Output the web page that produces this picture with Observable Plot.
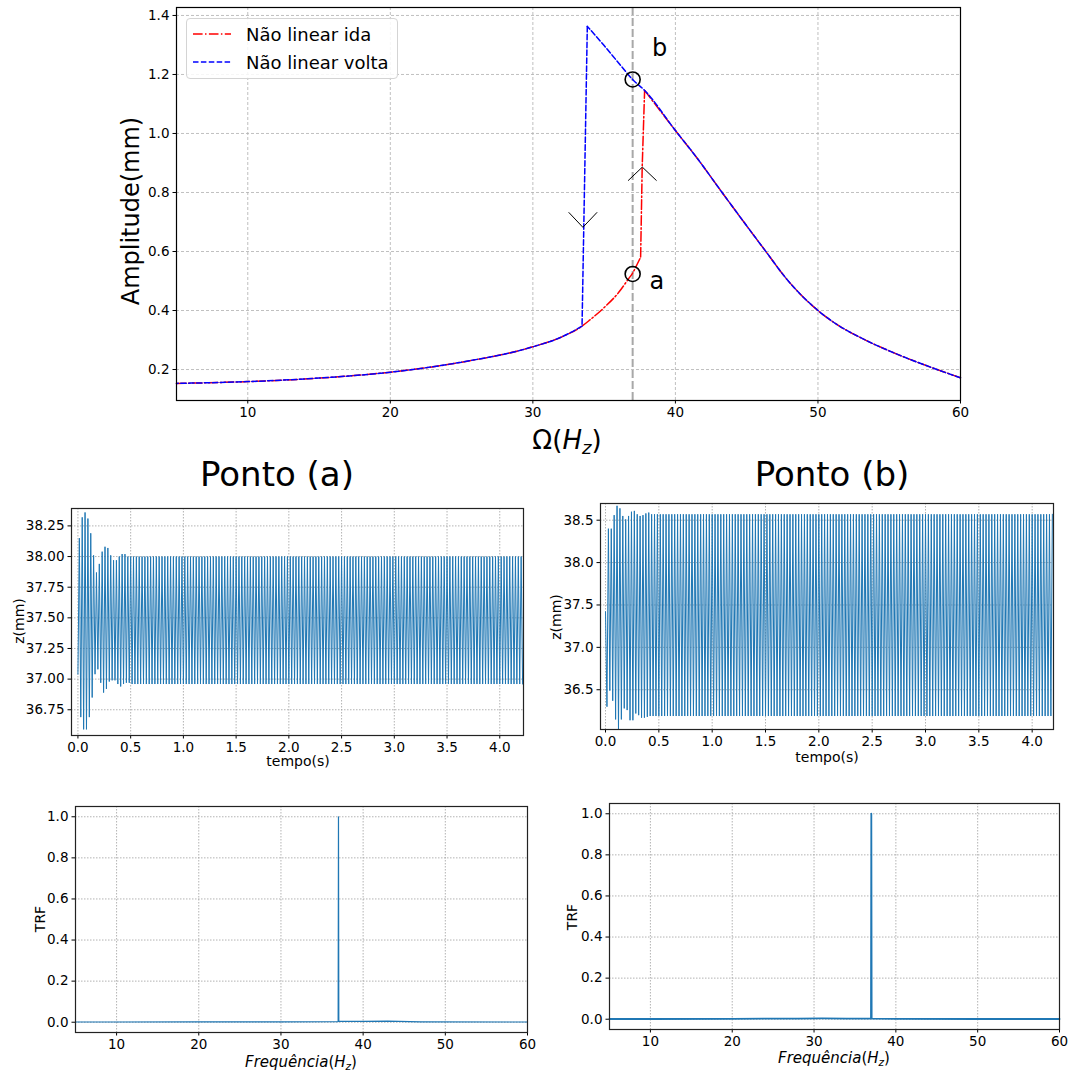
<!DOCTYPE html>
<html>
<head>
<meta charset="utf-8">
<script src="https://cdn.jsdelivr.net/npm/d3@7"></script>
<script src="https://cdn.jsdelivr.net/npm/@observablehq/plot@0.6"></script>
<style>
  body { margin: 0; background: #fff; }
  #fig { position: relative; width: 1075px; height: 1075px; background: #fff; overflow: hidden;
         font-family: "DejaVu Sans", sans-serif; color: #000; }
  .panel { position: absolute; }
  .lbl { position: absolute; white-space: nowrap; line-height: 1; transform: translate(-50%, -50%); }
  .sub { font-size: 0.7em; vertical-align: -0.3em; line-height: 0; }
  .legend { position: absolute; left: 186px; top: 18px; width: 212px; height: 61px; box-sizing: border-box;
            border: 1px solid #d4d4d4; border-radius: 4px; background: rgba(255,255,255,0.85); }
  .legend .row { position: absolute; left: 0; height: 28px; display: flex; align-items: center; font-size: 18px; }
  .legend svg { margin-left: 6px; margin-right: 15px; }
</style>
</head>
<body>
<div id="fig"></div>
<script>
// ---------- Frequency response: amplitude vs excitation frequency ----------
// Forward sweep ("ida"): lower branch, jump up near 37.6 Hz, then upper branch
const idaOmega = [5, 10, 15, 20, 25, 30, 32, 33.45, 34, 35, 36, 36.72, 37, 37.3, 37.56, 37.67, 37.84,
                  40, 41.5, 43.2, 44.8, 46.3, 47.8, 50, 51.35, 53.2, 55.5, 57.9, 60];
const idaAmp   = [0.153, 0.159, 0.171, 0.191, 0.225, 0.277, 0.31, 0.347, 0.368, 0.41, 0.46, 0.508, 0.527, 0.555, 0.581, 0.886, 1.146,
                  1.010, 0.918, 0.805, 0.700, 0.603, 0.507, 0.400, 0.352, 0.303, 0.253, 0.208, 0.172];
// Backward sweep ("volta"): upper branch down to 33.8 Hz, jump down, then lower branch
const voltaOmega = [60, 57.9, 55.5, 53.2, 51.35, 50, 47.8, 46.3, 44.8, 43.2, 41.5, 40, 37.84, 37, 36, 35, 33.82,
                    33.45, 32, 30, 25, 20, 15, 10, 5];
const voltaAmp   = [0.172, 0.208, 0.253, 0.303, 0.352, 0.400, 0.507, 0.603, 0.700, 0.805, 0.918, 1.010, 1.146, 1.183, 1.24, 1.298, 1.363,
                    0.347, 0.31, 0.277, 0.225, 0.191, 0.171, 0.159, 0.153];
const excitation = 37;               // Hz, dashed vertical marker
const pointNames = ["a", "b"];
const pointOmega = [37, 37];
const pointAmp   = [0.524, 1.183];
const pointTextOmega = [38.7, 38.9];
const pointTextAmp   = [0.500, 1.290];
// jump-direction chevrons: apex and arm ends
const chevronApexOmega = [33.51, 37.68];
const chevronApexAmp   = [0.682, 0.886];
const chevronArmAmp    = [0.732, 0.841];
const chevronHalfWidth = 0.98;       // Hz
const topXTicks = [10, 20, 30, 40, 50, 60];
const topYTicks = [0.2, 0.4, 0.6, 0.8, 1.0, 1.2, 1.4];

// ---------- Time responses z(t) at points (a) and (b) ----------
// successive extrema (start value, then alternating peaks/troughs every half period)
const transientA = [37.04, 38.15, 36.69, 38.32, 36.59, 38.36, 36.59, 38.31, 36.69, 38.19, 36.85, 38.01, 37.04,
                    37.87, 37.08, 37.94, 36.97, 38.04, 36.89, 38.08, 36.92, 38.07, 36.98, 38.01, 36.99, 37.97,
                    36.99, 37.97, 36.96, 38.00, 36.94, 38.02, 36.96, 38.02, 36.97, 38.00, 36.97];
const steadyA = {high: 38.00, low: 36.96};
const transientB = [37.42, 36.30, 38.40, 36.49, 38.40, 36.37, 38.56, 36.15, 38.67, 36.02, 38.64, 36.15, 38.55,
                    36.28, 38.51, 36.26, 38.55, 36.14, 38.60, 36.14, 38.61, 36.22, 38.57, 36.20, 38.55, 36.17,
                    38.56, 36.17, 38.58, 36.18, 38.59];
const steadyB = {high: 38.57, low: 36.19};
const responseFreq = 37;             // Hz
const durationA = 4.22, durationB = 4.2;
const timeTicks = [0, 0.5, 1, 1.5, 2, 2.5, 3, 3.5, 4];
const zTicksA = [36.75, 37.0, 37.25, 37.5, 37.75, 38.0, 38.25];
const zTicksB = [36.5, 37.0, 37.5, 38.0, 38.5];

// ---------- Spectra (TRF) ----------
const freqA = [5, 10, 20, 30, 36.96, 37.0, 37.04, 40, 43, 47, 60];
const trfA  = [0.001, 0.001, 0.002, 0.002, 0.003, 1.0, 0.004, 0.004, 0.005, 0.002, 0.001];
const freqB = [5, 10, 20, 28, 31, 34, 36.96, 37.0, 37.04, 40, 50, 60];
const trfB  = [0.001, 0.001, 0.002, 0.003, 0.004, 0.003, 0.003, 1.0, 0.003, 0.002, 0.001, 0.001];
const freqTicks = [10, 20, 30, 40, 50, 60];
const trfTicks = [0, 0.2, 0.4, 0.6, 0.8, 1.0];

// ---------- helpers ----------
const fig = document.getElementById("fig");
const BLUE = "#1f77b4";

function place(svg, left, top) {
  svg.classList.add("panel");
  svg.style.left = left + "px";
  svg.style.top = top + "px";
  fig.appendChild(svg);
}
function label(html, cx, cy, size, opts = {}) {
  const d = document.createElement("div");
  d.className = "lbl";
  d.innerHTML = html;
  d.style.left = cx + "px";
  d.style.top = cy + "px";
  d.style.fontSize = size + "px";
  if (opts.rotate) d.style.transform = "translate(-50%, -50%) rotate(-90deg)";
  fig.appendChild(d);
}
const baseStyle = {fontFamily: "DejaVu Sans", fontSize: "13.5px", color: "#000", background: "transparent", overflow: "visible"};

// expand extrema list into a polyline sampled at each half period
function timeSeries(transient, steady, firstIsPeak, duration) {
  const h = 1 / (2 * responseFreq);
  const pts = transient.map((z, k) => ({t: k * h, z}));
  for (let k = transient.length; k * h <= duration + 1e-9; k++) {
    const peak = (k % 2 === 1) === firstIsPeak;
    pts.push({t: k * h, z: peak ? steady.high : steady.low});
  }
  return pts;
}

// split a sweep into smooth runs and steep jump runs (|dA/dΩ| > 1 mm/Hz)
function sweepPieces(omega, amp) {
  const smooth = [], jump = [];
  let id = 0, cur = null, curJump = null;
  for (let i = 0; i < omega.length - 1; i++) {
    const steep = Math.abs((amp[i + 1] - amp[i]) / (omega[i + 1] - omega[i])) > 1;
    if (steep !== curJump) { id++; curJump = steep; cur = steep ? jump : smooth;
      cur.push({id, w: omega[i], a: amp[i]}); }
    cur.push({id, w: omega[i + 1], a: amp[i + 1]});
  }
  return {smooth, jump};
}

// ---------- top panel ----------
const ida = sweepPieces(idaOmega, idaAmp);
const volta = sweepPieces(voltaOmega, voltaAmp);
const points = pointNames.map((n, i) => ({n, w: pointOmega[i], a: pointAmp[i], tw: pointTextOmega[i], ta: pointTextAmp[i]}));
const chevrons = [];
chevronApexOmega.forEach((w, i) => {
  chevrons.push({id: i, w: w - chevronHalfWidth, a: chevronArmAmp[i]});
  chevrons.push({id: i, w: w, a: chevronApexAmp[i]});
  chevrons.push({id: i, w: w + chevronHalfWidth, a: chevronArmAmp[i]});
});
const idaStyle = {x: "w", y: "a", z: "id", stroke: "red", strokeWidth: 1.5, strokeDasharray: "9.6,2.4,1.5,2.4"};
const voltaStyle = {x: "w", y: "a", z: "id", stroke: "blue", strokeWidth: 1.5, strokeDasharray: "5.5,2.4"};

place(Plot.plot({
  width: 1075, height: 460,
  marginLeft: 176, marginRight: 115, marginTop: 7, marginBottom: 60,
  style: baseStyle,
  x: {domain: [5, 60], ticks: topXTicks, label: null, tickSize: 3.5, tickPadding: 3.5},
  y: {domain: [0.095, 1.427], ticks: topYTicks, tickFormat: d => d.toFixed(1), label: null, tickSize: 3.5, tickPadding: 3.5},
  marks: [
    Plot.gridX(topXTicks, {stroke: "#b0b0b0", strokeOpacity: 1, strokeWidth: 0.8, strokeDasharray: "3,2"}),
    Plot.gridY(topYTicks, {stroke: "#b0b0b0", strokeOpacity: 1, strokeWidth: 0.8, strokeDasharray: "3,2"}),
    Plot.ruleX([excitation], {stroke: "#a8a8a8", strokeWidth: 2, strokeDasharray: "8,3"}),
    Plot.line(ida.smooth, {...idaStyle, curve: "monotone-x"}),
    Plot.line(ida.jump, idaStyle),
    Plot.line(volta.smooth, {...voltaStyle, curve: "monotone-x"}),
    Plot.line(volta.jump, voltaStyle),
    Plot.line(chevrons, {x: "w", y: "a", z: "id", stroke: "black", strokeWidth: 1}),
    Plot.dot(points, {x: "w", y: "a", r: 7.5, stroke: "black", strokeWidth: 1.6, fill: "none"}),
    Plot.text(points, {x: "tw", y: "ta", text: "n", fontSize: 24, fill: "black"}),
    Plot.frame({stroke: "#000", strokeWidth: 1.2})
  ]
}), 0, 0);

label("Amplitude(mm)", 131, 211, 24, {rotate: true});
label("Ω(<i>H</i><i class='sub'>z</i>)", 567, 440, 26);

// legend
const legend = document.createElement("div");
legend.className = "legend";
legend.innerHTML = `
  <div class="row" style="top:1px"><svg width="38" height="6"><line x1="0" y1="3" x2="38" y2="3" stroke="red" stroke-width="1.5" stroke-dasharray="9.6,2.4,1.5,2.4"/></svg>Não linear ida</div>
  <div class="row" style="top:29px"><svg width="38" height="6"><line x1="0" y1="3" x2="38" y2="3" stroke="blue" stroke-width="1.5" stroke-dasharray="5.5,2.4"/></svg>Não linear volta</div>`;
fig.appendChild(legend);

// ---------- middle: time responses ----------
label("Ponto (a)", 277, 474, 34);
label("Ponto (b)", 832, 474, 34);

const gridStyle = {stroke: "#a0a0a0", strokeOpacity: 1, strokeWidth: 0.8, strokeDasharray: "1.5,1.5"};

place(Plot.plot({
  width: 540, height: 290,
  marginLeft: 71, marginRight: 17, marginTop: 18, marginBottom: 45,
  style: baseStyle,
  x: {domain: [-0.061, 4.225], ticks: timeTicks, tickFormat: d => d.toFixed(1), label: null, tickSize: 3.5, tickPadding: 3.5},
  y: {domain: [36.54, 38.392], ticks: zTicksA, tickFormat: d => d.toFixed(2), label: null, tickSize: 3.5, tickPadding: 3.5},
  marks: [
    Plot.gridX(timeTicks, gridStyle),
    Plot.gridY(zTicksA, gridStyle),
    Plot.line(timeSeries(transientA, steadyA, true, durationA), {x: "t", y: "z", stroke: BLUE, strokeWidth: 1, clip: true}),
    Plot.frame({stroke: "#222", strokeWidth: 1.2})
  ]
}), 0, 490);
label("z(mm)", 19, 621, 14, {rotate: true});
label("tempo(s)", 298, 761, 14);

place(Plot.plot({
  width: 535, height: 290,
  marginLeft: 60, marginRight: 22, marginTop: 13, marginBottom: 51,
  style: baseStyle,
  x: {domain: [-0.047, 4.2], ticks: timeTicks, tickFormat: d => d.toFixed(1), label: null, tickSize: 3.5, tickPadding: 3.5},
  y: {domain: [36.031, 38.697], ticks: zTicksB, tickFormat: d => d.toFixed(1), label: null, tickSize: 3.5, tickPadding: 3.5},
  marks: [
    Plot.gridX(timeTicks, gridStyle),
    Plot.gridY(zTicksB, gridStyle),
    Plot.line(timeSeries(transientB, steadyB, false, durationB), {x: "t", y: "z", stroke: BLUE, strokeWidth: 1, clip: true}),
    Plot.frame({stroke: "#222", strokeWidth: 1.2})
  ]
}), 540, 490);
label("z(mm)", 556, 617, 14, {rotate: true});
label("tempo(s)", 827, 757, 14);

// ---------- bottom: spectra ----------
const freqLabel = "<i>Frequência</i>(<i>H</i><i class='sub'>z</i>)";

place(Plot.plot({
  width: 540, height: 285,
  marginLeft: 75, marginRight: 13, marginTop: 16, marginBottom: 43,
  style: baseStyle,
  x: {domain: [5, 60], ticks: freqTicks, label: null, tickSize: 3.5, tickPadding: 3.5},
  y: {domain: [-0.05, 1.05], ticks: trfTicks, tickFormat: d => d.toFixed(1), label: null, tickSize: 3.5, tickPadding: 3.5},
  marks: [
    Plot.gridX(freqTicks, gridStyle),
    Plot.gridY(trfTicks, gridStyle),
    Plot.line(freqA.map((f, i) => ({f, v: trfA[i]})), {x: "f", y: "v", stroke: BLUE, strokeWidth: 1.2}),
    Plot.frame({stroke: "#222", strokeWidth: 1.2})
  ]
}), 0, 790);
label("TRF", 40, 919, 14, {rotate: true});
label(freqLabel, 301, 1062, 15);

place(Plot.plot({
  width: 535, height: 285,
  marginLeft: 69, marginRight: 16, marginTop: 13, marginBottom: 46,
  style: baseStyle,
  x: {domain: [5, 60], ticks: freqTicks, label: null, tickSize: 3.5, tickPadding: 3.5},
  y: {domain: [-0.05, 1.05], ticks: trfTicks, tickFormat: d => d.toFixed(1), label: null, tickSize: 3.5, tickPadding: 3.5},
  marks: [
    Plot.gridX(freqTicks, gridStyle),
    Plot.gridY(trfTicks, gridStyle),
    Plot.line(freqB.map((f, i) => ({f, v: trfB[i]})), {x: "f", y: "v", stroke: BLUE, strokeWidth: 1.8}),
    Plot.frame({stroke: "#222", strokeWidth: 1.2})
  ]
}), 540, 790);
label("TRF", 572, 917, 14, {rotate: true});
label(freqLabel, 834, 1058, 15);
</script>
</body>
</html>
